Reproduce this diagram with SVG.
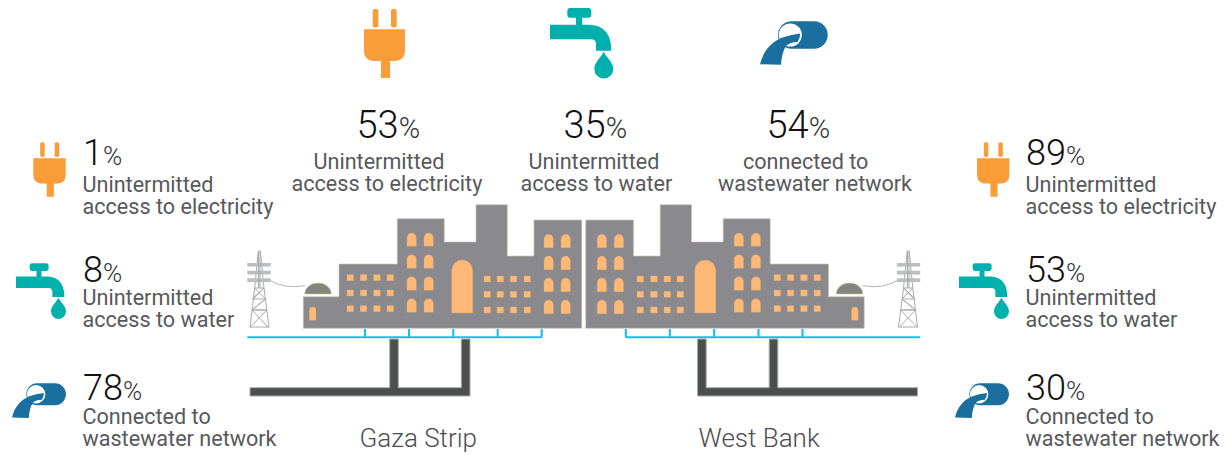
<svg xmlns="http://www.w3.org/2000/svg" xmlns:xlink="http://www.w3.org/1999/xlink" width="1227" height="455" viewBox="0 0 1227 455">
<style>
text{font-family:Roboto,"Liberation Sans",sans-serif}
.n{font-size:38px;font-weight:300;fill:#111}
.n tspan{font-size:29px;fill:#333}
.s{font-size:36px}
.s tspan{font-size:26px}
.l{font-size:21.6px;font-weight:400;fill:#58595b}
.c{font-size:26px;font-weight:300;fill:#4d4d4f}
.b{fill:#8a8a8e;stroke:#c9bfb4;stroke-width:.6}
.w{fill:#fdb975;stroke:#d9a877;stroke-width:.3}
.t{fill:none;stroke:#a9aaad;stroke-width:1}
.a{fill:#bdbec0}
.blue{fill:none;stroke:#1cbde8;stroke-width:2.1}
.drain{fill:#4d4f4e;stroke:#a8a9aa;stroke-width:1}
.wire{fill:none;stroke:#a9aaad;stroke-width:.9}
</style>
<defs>
<g id="plug" fill="#fa9c38">
<rect x="372.7" y="9" width="5.7" height="18.5" rx="2"/>
<rect x="391" y="9" width="5.7" height="18.5" rx="2"/>
<path d="M364 29.3H405V50Q405 61 394 61H390V78H381V61H375Q364 61 364 50Z"/>
</g>
<g id="tap" fill="#00b0ad">
<rect x="567.3" y="8" width="24" height="9.7" rx="3"/>
<rect x="576" y="17" width="6.3" height="9"/>
<path d="M550 24.7H590Q611.3 26 611.3 50.7H596V44Q596 39.3 591 39.3H550Z"/>
<path d="M603.7 51.7C606 57 613.3 62 613.3 69A9.5 9.5 0 0 1 594.3 69C594.3 62 601.4 57 603.7 51.7Z"/>
</g>
<g id="pipe">
<rect x="778" y="21.3" width="49.7" height="27.4" rx="13.7" fill="#1a6f9f"/>
<circle cx="790.3" cy="35" r="11.5" fill="#fff"/>
<path d="M760 64.3C763 52 770 43 781 38Q790 34.5 800 33.5Q800.5 38 797.5 42Q790 42 786 46Q782 52 781 64.7Z" fill="#1a6f9f"/>
</g>
<g id="tower">
<path class="t" d="M258.3 251H260.3L264 288L269 327.3M258.3 251L254.7 288L250 327.3"/>
<path class="t" d="M254.7 288H264L253.3 299H265.5L251.8 310H267L250 327.3M264 288L252 299M254.7 288L265.5 299L252 310L268 327.3M251.8 310H267M250 327H269" stroke-width=".8"/>
<rect class="a" x="247.3" y="263" width="23.4" height="3.6"/>
<rect class="a" x="247.3" y="270.7" width="23.4" height="3.8"/>
<rect class="a" x="247.3" y="278.3" width="23.4" height="3.8"/>
<path class="t" d="M258.5 252V288M260 252V288" stroke-width=".6"/>
</g>
<g id="city">
<use xlink:href="#tower" href="#tower"/>
<path class="wire" d="M270.7 280.7Q284 289 305 285.7"/>
<path d="M304.7 294A13.3 11 0 0 1 331.3 294Z" fill="#85857f" stroke="#c9c58f" stroke-width=".5"/>
<path class="b" d="M303.3 328.3V296.7H339V264H397.3V218.7H444.3V242H476V204.7H507.3V256H534V220H581.7V328.3Z"/>
<g class="w">
<path id="ar" d="M407 246.3V237.7A4.65 4.65 0 0 1 416.3 237.7V246.3Z"/>
<path d="M424 246.3V237.7A4.65 4.65 0 0 1 433.3 237.7V246.3Z"/>
<path d="M407 268.3V259.4A4.65 4.65 0 0 1 416.3 259.4V268.3Z"/>
<path d="M424 268.3V259.4A4.65 4.65 0 0 1 433.3 259.4V268.3Z"/>
<path d="M407 290.3V281.4A4.65 4.65 0 0 1 416.3 281.4V290.3Z"/>
<path d="M424 290.3V281.4A4.65 4.65 0 0 1 433.3 281.4V290.3Z"/>
<path d="M407 312.3V303.4A4.65 4.65 0 0 1 416.3 303.4V312.3Z"/>
<path d="M424 312.3V303.4A4.65 4.65 0 0 1 433.3 303.4V312.3Z"/>
<path d="M544 247.7V239A4.65 4.65 0 0 1 553.3 239V247.7Z"/>
<path d="M561 247.7V239A4.65 4.65 0 0 1 570.3 239V247.7Z"/>
<path d="M544 269.7V260.7A4.65 4.65 0 0 1 553.3 260.7V269.7Z"/>
<path d="M561 269.7V260.7A4.65 4.65 0 0 1 570.3 260.7V269.7Z"/>
<path d="M544 291.7V282.7A4.65 4.65 0 0 1 553.3 282.7V291.7Z"/>
<path d="M561 291.7V282.7A4.65 4.65 0 0 1 570.3 282.7V291.7Z"/>
<path d="M544 313.7V304.7A4.65 4.65 0 0 1 553.3 304.7V313.7Z"/>
<path d="M561 313.7V304.7A4.65 4.65 0 0 1 570.3 304.7V313.7Z"/>
<path d="M451.7 313V270.5A10.5 10.5 0 0 1 472.7 270.5V313Z"/>
<path d="M309.3 320.3V310.3A3.3 3.3 0 0 1 316 310.3V320.3Z"/>
<rect x="347" y="274.7" width="6.5" height="6"/><rect x="360.3" y="274.7" width="6.5" height="6"/><rect x="373.7" y="274.7" width="6.5" height="6"/><rect x="387" y="274.7" width="6.5" height="6"/>
<rect x="347" y="290" width="6.5" height="6"/><rect x="360.3" y="290" width="6.5" height="6"/><rect x="373.7" y="290" width="6.5" height="6"/><rect x="387" y="290" width="6.5" height="6"/>
<rect x="347" y="305.7" width="6.5" height="6"/><rect x="360.3" y="305.7" width="6.5" height="6"/><rect x="373.7" y="305.7" width="6.5" height="6"/><rect x="387" y="305.7" width="6.5" height="6"/>
<rect x="484" y="276" width="6.5" height="6"/><rect x="497" y="276" width="6.5" height="6"/><rect x="510.3" y="276" width="6.5" height="6"/><rect x="524" y="276" width="6.5" height="6"/>
<rect x="484" y="291.3" width="6.5" height="6"/><rect x="497" y="291.3" width="6.5" height="6"/><rect x="510.3" y="291.3" width="6.5" height="6"/><rect x="524" y="291.3" width="6.5" height="6"/>
<rect x="484" y="307" width="6.5" height="6"/><rect x="497" y="307" width="6.5" height="6"/><rect x="510.3" y="307" width="6.5" height="6"/><rect x="524" y="307" width="6.5" height="6"/>
</g>
</g>
<g id="pipes">
<path class="blue" d="M247.3 337.3H540Q541.7 337.3 541.7 335.5V329M365 329V337M409 329V337M453.3 329V337M497.7 329V337"/>
<path class="drain" d="M389.7 339H398.3V387.7H461.3V339H470V396H250V387.7H389.7Z"/>
</g>
</defs>

<g id="gaza-city"><use xlink:href="#city" href="#city"/></g>
<g id="westbank-city"><use xlink:href="#city" href="#city" transform="translate(1167.5) scale(-1 1)"/></g>
<g id="connectors"><use xlink:href="#pipes" href="#pipes"/><use xlink:href="#pipes" href="#pipes" transform="translate(1167.5) scale(-1 1)"/></g>

<g id="top-electricity"><use xlink:href="#plug" href="#plug"/>
<text class="n" x="356.5" y="137.5">53<tspan>%</tspan></text>
<text class="l" x="313.5" y="169">Unintermitted</text><text class="l" x="291.5" y="191">access to electricity</text></g>
<g id="top-water"><use xlink:href="#tap" href="#tap"/>
<text class="n" x="563.5" y="137.5">35<tspan>%</tspan></text>
<text class="l" x="528.5" y="169">Unintermitted</text><text class="l" x="520.5" y="191">access to water</text></g>
<g id="top-wastewater"><use xlink:href="#pipe" href="#pipe"/>
<text class="n" x="766.5" y="137.5">54<tspan>%</tspan></text>
<text class="l" x="743" y="169">connected to</text><text class="l" x="718" y="191">wastewater network</text></g>

<g id="left-electricity"><use xlink:href="#plug" href="#plug" transform="translate(33.3 142.3) scale(.79) translate(-364 -9)"/>
<text class="n s" x="83" y="165">1<tspan>%</tspan></text>
<text class="l" x="82.5" y="192">Unintermitted</text><text class="l" x="82.5" y="214">access to electricity</text></g>
<g id="left-water"><use xlink:href="#tap" href="#tap" transform="translate(16 263.3) scale(.79) translate(-550 -8)"/>
<text class="n s" x="83" y="282">8<tspan>%</tspan></text>
<text class="l" x="82.5" y="305">Unintermitted</text><text class="l" x="82.5" y="327">access to water</text></g>
<g id="left-wastewater"><use xlink:href="#pipe" href="#pipe" transform="translate(12 383.3) scale(.797) translate(-760 -21.3)"/>
<text class="n s" x="83" y="400">78<tspan>%</tspan></text>
<text class="l" x="82.5" y="424">Connected to</text><text class="l" x="82.5" y="446">wastewater network</text></g>

<g id="right-electricity"><use xlink:href="#plug" href="#plug" transform="translate(977 142.3) scale(.79) translate(-364 -9)"/>
<text class="n s" x="1026" y="165">89<tspan>%</tspan></text>
<text class="l" x="1025.5" y="192">Unintermitted</text><text class="l" x="1025.5" y="214">access to electricity</text></g>
<g id="right-water"><use xlink:href="#tap" href="#tap" transform="translate(959 263.3) scale(.79) translate(-550 -8)"/>
<text class="n s" x="1026" y="282">53<tspan>%</tspan></text>
<text class="l" x="1025.5" y="305">Unintermitted</text><text class="l" x="1025.5" y="327">access to water</text></g>
<g id="right-wastewater"><use xlink:href="#pipe" href="#pipe" transform="translate(955 383.3) scale(.797) translate(-760 -21.3)"/>
<text class="n s" x="1026" y="400">30<tspan>%</tspan></text>
<text class="l" x="1025.5" y="424">Connected to</text><text class="l" x="1025.5" y="446">wastewater network</text></g>

<g id="captions">
<text class="c" x="359.5" y="447">Gaza Strip</text>
<text class="c" x="698.5" y="447">West Bank</text>
</g>
</svg>
